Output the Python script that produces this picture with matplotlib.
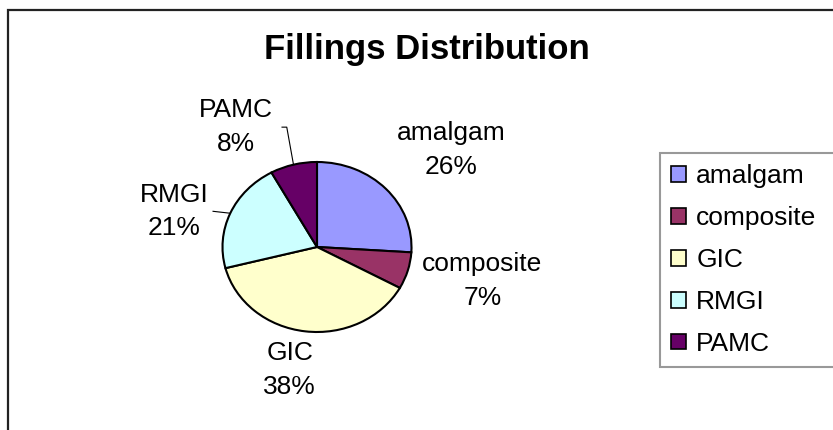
import matplotlib
matplotlib.use("Agg")
import matplotlib.pyplot as plt
from matplotlib.patches import Rectangle
import numpy as np

categories = ["amalgam", "composite", "GIC", "RMGI", "PAMC"]
values = [26, 7, 38, 21, 8]
colors = ["#9999FF", "#993366", "#FFFFCC", "#CCFFFF", "#660066"]
title = "Fillings Distribution"

W, H = 833, 430
plt.rcParams['font.family'] = ['Liberation Sans', 'DejaVu Sans']
fig = plt.figure(figsize=(W / 100, H / 100), dpi=100)

# outer chart frame
fig.add_artist(Rectangle((8 / W, -0.1), 2, 1.1 - 10 / H, transform=fig.transFigure,
                         fill=False, ec="#222222", lw=1.6))

fig.text(427 / W, 1 - 50 / H, title, ha="center", va="center",
         fontsize=25, fontweight="bold")

cx, cy, rx, ry = 317, 247, 94.5, 85
ax = fig.add_axes([(cx - rx) / W, (H - cy - ry) / H, 2 * rx / W, 2 * ry / H])
wedges, _ = ax.pie(values, colors=colors, startangle=90, counterclock=False,
                   wedgeprops=dict(edgecolor="black", linewidth=1.5))
ax.set_aspect("auto")
ax.set_xlim(-1, 1)
ax.set_ylim(-1, 1)
ax.axis("off")

# label positions (data units of the pie axes)
label_pos = [(1.42, 1.14), (1.75, -0.40), (-0.29, -1.45), (-1.51, 0.42), (-0.86, 1.41)]
total = sum(values)
for w, cat, v, (lx, ly) in zip(wedges, categories, values, label_pos):
    ax.text(lx, ly, f"{cat}\n{round(100 * v / total)}%", ha="center", va="center",
            fontsize=19, linespacing=1.5, clip_on=False)

# leader lines for PAMC and RMGI
leaders = {4: [(-0.32, 1.41), (-0.37, 1.41)], 3: [(-1.10, 0.42)]}
for i, pts in leaders.items():
    w = wedges[i]
    mid = np.deg2rad((w.theta1 + w.theta2) / 2)
    xs = [np.cos(mid)] + [p[0] for p in pts]
    ys = [np.sin(mid)] + [p[1] for p in pts]
    ax.plot(xs, ys, color="black", lw=0.8, clip_on=False)

leg = fig.legend(wedges, categories, loc="upper left",
                 bbox_to_anchor=(660 / W, 0, 0.3, 1 - 153 / H), mode="expand",
                 borderaxespad=0, fontsize=19, frameon=True, fancybox=False,
                 handlelength=0.55, handleheight=0.55, handletextpad=0.4,
                 labelspacing=0.68, borderpad=0.42)
leg.get_frame().set_edgecolor("#808080")
leg.get_frame().set_linewidth(1.5)
for h in leg.legend_handles:
    h.set_edgecolor("black")
    h.set_linewidth(1.2)

fig.savefig("out.png", dpi=100)
